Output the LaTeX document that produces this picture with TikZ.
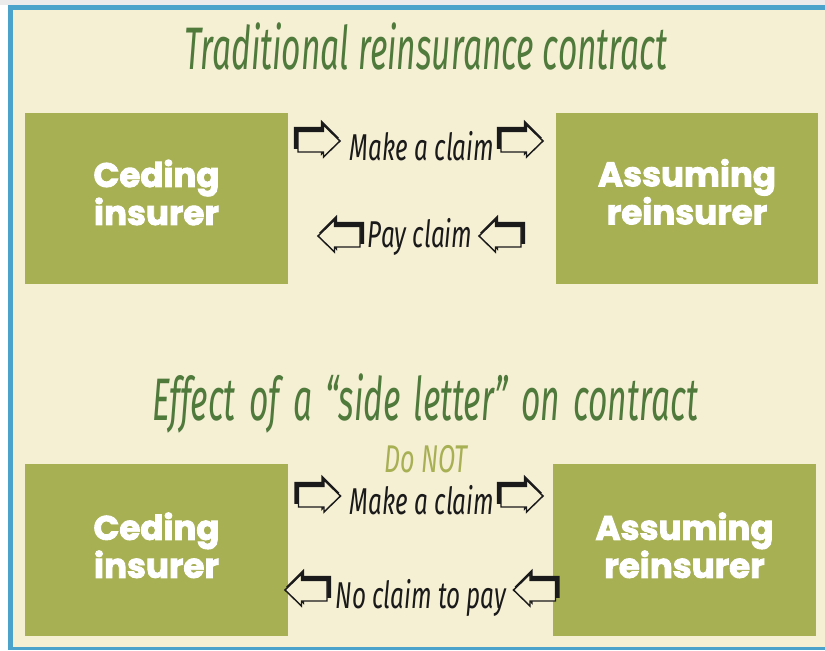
\documentclass[tikz,border=0pt]{standalone}
\usepackage{fontspec}
\setmainfont{Fira Sans}
\newfontfamily\titlefont{Fira Sans}[FakeStretch=0.56]
\newfontfamily\labelfont{Fira Sans}[FakeStretch=0.65]
\newfontfamily\boxfont{Poppins}[FakeBold=2.6]
\definecolor{cream}{HTML}{F5EFD4}
\definecolor{boxgreen}{HTML}{A7B053}
\definecolor{titlegreen}{HTML}{4F7A3C}
\definecolor{frameblue}{HTML}{4BA3CB}
\definecolor{ink}{HTML}{1A1A1A}
\tikzset{
  party/.style={fill=boxgreen, draw=none, inner sep=0pt},
  partytext/.style={text=white, align=center, inner sep=0pt,
    font=\boxfont\bfseries\fontsize{25.5}{28.5}\selectfont},
  heading/.style={text=titlegreen, inner sep=0pt,
    font=\titlefont\itshape\fontsize{45}{50}\selectfont},
  flowlabel/.style={text=ink, inner sep=0pt,
    font=\labelfont\itshape\fontsize{28}{32}\selectfont},
  negation/.style={text=boxgreen, inner sep=0pt,
    font=\labelfont\itshape\fontsize{29}{32}\selectfont},
  blockarrow/.pic={
    \fill[ink, shift={(-2.6,-3.2)}]
      (-22.5,-11) -- (4.5,-11) -- (4.5,-18) -- (22.5,0) -- (4.5,18)
      -- (4.5,11) -- (-22.5,11) -- cycle;
    \filldraw[fill=cream, draw=ink, line width=1.1pt, line join=miter]
      (-21,-9.5) -- (4.5,-9.5) -- (4.5,-16) -- (21,0) -- (4.5,16)
      -- (4.5,11) -- (-21,11) -- cycle;
  }
}
\begin{document}
\begin{tikzpicture}[x=0.75pt, y=-0.75pt]
\useasboundingbox (0,0) rectangle (825,650);
% page and frame
\fill[white] (0,0) rectangle (825,650);
\fill[black!8] (0,0) rectangle (825,4.5);
\fill[cream] (13,10) rectangle (825,647);
\fill[frameblue] (8,5) rectangle (825,10);
\fill[frameblue] (8,5) rectangle (13,650);
\fill[frameblue] (8,647) rectangle (825,650);

% upper panel: traditional contract
\node[heading, anchor=base] (t1) at (426,69) {Traditional reinsurance contract};
\node[party, minimum width=263*0.75pt, minimum height=171*0.75pt] (ced1) at (156.5,198.5) {};
\node[party, minimum width=262*0.75pt, minimum height=171*0.75pt] (ass1) at (687,198.5) {};
\node[partytext] (ced1txt) at ([yshift=4.5pt]ced1.center) {Ceding\\insurer};
\node[partytext] (ass1txt) at ([yshift=5pt]ass1.center) {Assuming\\reinsurer};
\node[flowlabel, anchor=base] (claim1) at (422,160) {Make a claim};
\node[flowlabel, anchor=base] (pay1) at (420,247) {Pay claim};
\pic at (319,141) {blockarrow};
\pic at (522,141) {blockarrow};
\pic[xscale=-1] at (339,236) {blockarrow};
\pic[xscale=-1] at (500,236) {blockarrow};

% lower panel: with a side letter
\node[heading, anchor=base] (t2) at (425,420)
  {\spaceskip=10pt plus 2pt\relax Effect of a \textquotedblleft side letter\textquotedblright\ on contract};
\node[party, minimum width=263*0.75pt, minimum height=172*0.75pt] (ced2) at (156.5,550) {};
\node[party, minimum width=263*0.75pt, minimum height=172*0.75pt] (ass2) at (684.5,550) {};
\node[partytext] (ced2txt) at ([yshift=3.5pt]ced2.center) {Ceding\\insurer};
\node[partytext] (ass2txt) at ([yshift=3.5pt]ass2.center) {Assuming\\reinsurer};
\node[negation, anchor=base] (not2) at (426,472) {Do NOT};
\node[flowlabel, anchor=base] (claim2) at (422,514) {Make a claim};
\node[flowlabel, anchor=base] (pay2) at (421,608) {No claim to pay};
\pic at (319.5,496) {blockarrow};
\pic at (522,496) {blockarrow};
\pic[xscale=-1] at (306,590) {blockarrow};
\pic[xscale=-1] at (534.5,590) {blockarrow};
\end{tikzpicture}
\end{document}
